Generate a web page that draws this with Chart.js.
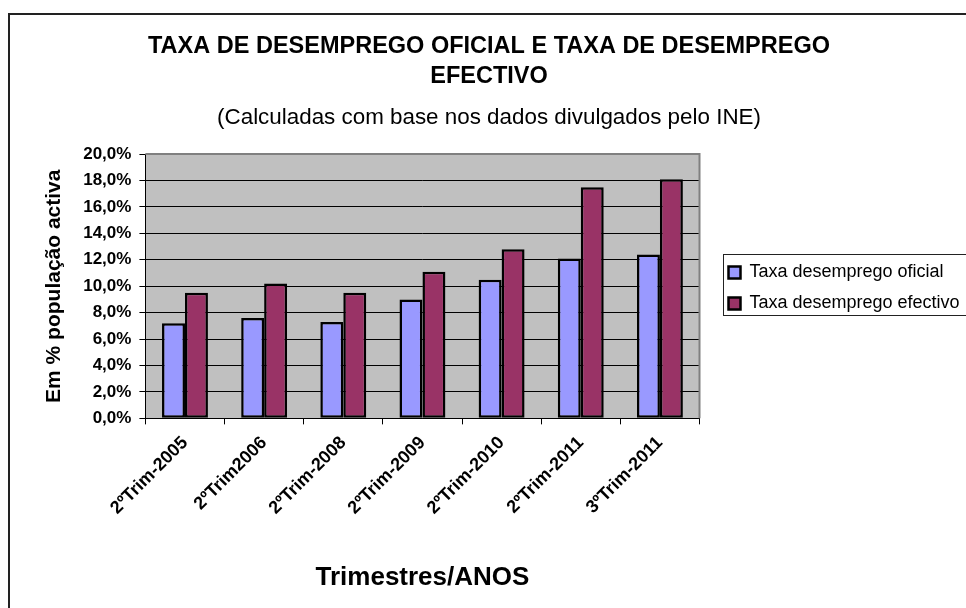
<!DOCTYPE html>
<html>
<head>
<meta charset="utf-8">
<script src="https://cdn.jsdelivr.net/npm/chart.js@4/dist/chart.umd.min.js"></script>
<style>
    body { margin: 0; background: #fff; width: 966px; height: 608px; overflow: hidden; position: relative; }
    #frame { position: absolute; left: 8px; top: 13px; width: 1000px; height: 700px; border-left: 2px solid #222; border-top: 2px solid #222; }
    #chart { position: absolute; left: 0; top: 0; }
</style>
</head>
<body>
<div id="frame"></div>
<canvas id="chart" width="966" height="608"></canvas>
<script>
const categories = ['2ºTrim-2005', '2ºTrim2006', '2ºTrim-2008', '2ºTrim-2009', '2ºTrim-2010', '2ºTrim-2011', '3ºTrim-2011'];
const taxaOficial = [7.2, 7.6, 7.3, 9.0, 10.5, 12.1, 12.4];
const taxaEfectivo = [9.5, 10.2, 9.5, 11.1, 12.8, 17.5, 18.1];
const seriesNames = ['Taxa desemprego oficial', 'Taxa desemprego efectivo'];
const titleLines = ['TAXA DE DESEMPREGO OFICIAL E TAXA DE DESEMPREGO', 'EFECTIVO'];
const subtitleText = '(Calculadas com base nos dados divulgados pelo INE)';
const yTitle = 'Em % população activa';
const xTitle = 'Trimestres/ANOS';

const FONT = '"Liberation Sans", Arial, Helvetica, sans-serif';

// gray plot area + gray top/right edge
const plotFrame = {
    id: 'plotFrame',
    beforeDraw(chart) {
        const {ctx, chartArea: a} = chart;
        ctx.save();
        ctx.fillStyle = '#C0C0C0';
        ctx.fillRect(a.left, a.top, a.right - a.left, a.bottom - a.top);
        ctx.restore();
    },
    afterDatasetsDraw(chart) {
        const {ctx, chartArea: a} = chart;
        ctx.save();
        ctx.strokeStyle = '#808080';
        ctx.lineWidth = 2;
        ctx.beginPath();
        ctx.moveTo(a.left, a.top);
        ctx.lineTo(a.right, a.top);
        ctx.lineTo(a.right, a.bottom);
        ctx.stroke();
        ctx.restore();
    }
};

// nudge titles and legend into place, draw the legend box
const legendBox = {
    id: 'legendBox',
    afterLayout(chart) {
        chart.boxes.forEach(b => {
            if (b.position === 'top') {
                b.left += 10;
                b.right += 10;
            }
        });
        const lg = chart.legend;
        lg.left = chart.chartArea.right + 16;
        lg.right = chart.width;
        lg.top -= 11;
        lg.bottom -= 11;
    },
    afterDraw(chart) {
        const hb = chart.legend.legendHitBoxes;
        if (!hb || !hb.length) return;
        const first = hb[0], last = hb[hb.length - 1];
        const ctx = chart.ctx;
        const top = Math.round(first.top - 10) + 0.5;
        const bottom = Math.round(last.top + last.height + 2) + 0.5;
        ctx.save();
        ctx.strokeStyle = '#222';
        ctx.lineWidth = 1;
        ctx.strokeRect(Math.round(first.left - 6) + 0.5, top, 400, bottom - top);
        ctx.restore();
    }
};

new Chart(document.getElementById('chart'), {
    type: 'bar',
    data: {
        labels: categories,
        datasets: [{
            label: seriesNames[0],
            data: taxaOficial,
            backgroundColor: '#9999FF',
            borderColor: '#000',
            borderWidth: 2.5,
            borderSkipped: false
        }, {
            label: seriesNames[1],
            data: taxaEfectivo,
            backgroundColor: '#993366',
            borderColor: '#000',
            borderWidth: 2.5,
            borderSkipped: false
        }]
    },
    options: {
        responsive: false,
        animation: false,
        devicePixelRatio: 1,
        categoryPercentage: 0.58,
        barPercentage: 1.0,
        layout: { padding: { left: 38, right: 46, top: 0, bottom: 10 } },
        plugins: {
            title: {
                display: true,
                text: titleLines,
                color: '#000',
                font: { family: FONT, size: 23.5, weight: 'bold', lineHeight: 1.26 },
                padding: { top: 32, bottom: 0 }
            },
            subtitle: {
                display: true,
                text: subtitleText,
                color: '#000',
                font: { family: FONT, size: 22.4, weight: 'normal', lineHeight: 1.2 },
                padding: { top: 13, bottom: 23 }
            },
            legend: {
                position: 'right',
                labels: {
                    color: '#000',
                    font: { family: FONT, size: 18 },
                    boxWidth: 12,
                    boxHeight: 12,
                    padding: 13
                }
            },
            tooltip: { enabled: false }
        },
        scales: {
            x: {
                grid: { display: true, drawOnChartArea: false, drawTicks: true, tickLength: 6, color: '#000', offset: true },
                border: { display: true, color: '#000', width: 1 },
                ticks: {
                    color: '#000',
                    font: { family: FONT, size: 18, weight: 'bold' },
                    minRotation: 45,
                    maxRotation: 45,
                    autoSkip: false,
                    padding: 8
                },
                title: {
                    display: true,
                    text: xTitle,
                    color: '#000',
                    font: { family: FONT, size: 26, weight: 'bold' },
                    padding: { top: 35, bottom: 5 }
                }
            },
            y: {
                min: 0,
                max: 20,
                grid: { color: '#000', lineWidth: 1, tickLength: 6, drawTicks: true },
                border: { display: true, color: '#000', width: 1 },
                ticks: {
                    stepSize: 2,
                    color: '#000',
                    padding: 8,
                    font: { family: FONT, size: 17, weight: 'bold' },
                    callback: v => v.toFixed(1).replace('.', ',') + '%'
                },
                title: {
                    display: true,
                    text: yTitle,
                    color: '#000',
                    font: { family: FONT, size: 21, weight: 'bold' },
                    padding: { top: 4, bottom: 8 }
                }
            }
        }
    },
    plugins: [plotFrame, legendBox]
});
</script>
</body>
</html>
